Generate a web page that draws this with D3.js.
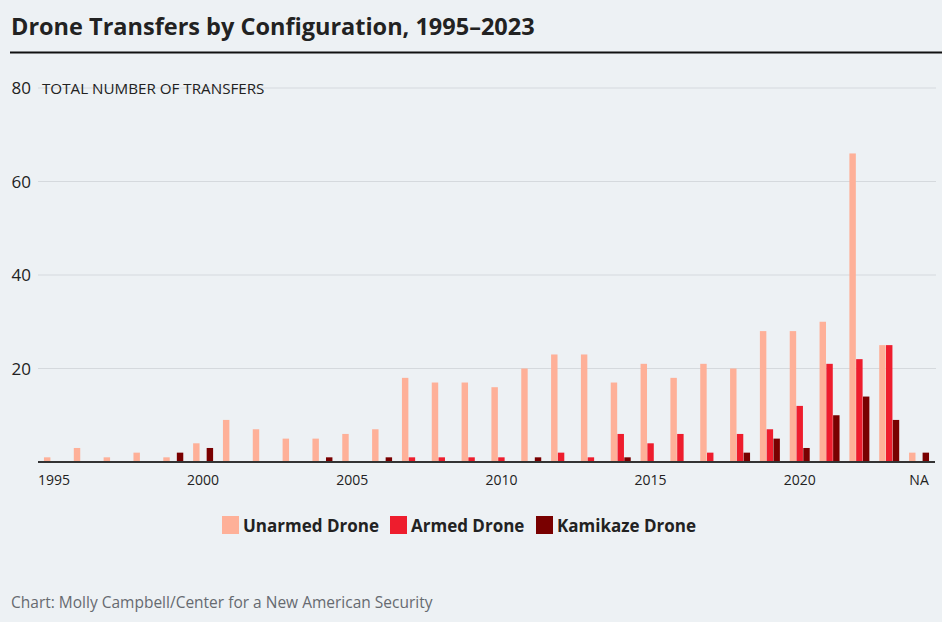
<!DOCTYPE html>
<html>
<head>
<meta charset="utf-8" />
<title>Drone Transfers by Configuration</title>
<script src="https://cdn.jsdelivr.net/npm/d3@7"></script>
<style>
  html, body { margin: 0; padding: 0; background: #edf1f4; }
  svg { display: block; font-family: "Open Sans", "Noto Sans", sans-serif; }
</style>
</head>
<body>
<svg width="942" height="622"></svg>
<script>
// data
var years = ["1995","1996","1997","1998","1999","2000","2001","2002","2003","2004",
             "2005","2006","2007","2008","2009","2010","2011","2012","2013","2014",
             "2015","2016","2017","2018","2019","2020","2021","2022","2023","NA"];
var unarmed  = [1,3,1,2,1,4,9,7,5,5, 6,7,18,17,17,16,20,23,23,17, 21,18,21,20,28,28,30,66,25,2];
var armed    = [0,0,0,0,0,0,0,0,0,0, 0,0,1,1,1,1,0,2,1,6, 4,6,2,6,7,12,21,22,25,0];
var kamikaze = [0,0,0,0,2,3,0,0,0,1, 0,1,0,0,0,0,1,0,0,1, 0,0,0,2,5,3,10,14,9,2];
var seriesNames = ["Unarmed Drone","Armed Drone","Kamikaze Drone"];
var colors = ["#feb098","#ee1d2d","#790000"];
var yTicks = [20,40,60,80];
var xTickLabels = ["1995","2000","2005","2010","2015","2020","NA"];

var svg = d3.select("svg");
var plotLeft = 38, plotRight = 935, plotTop = 88, plotBottom = 462;

var series = [unarmed, armed, kamikaze];
var rows = years.map(function(yr, i) {
  return { year: yr, values: series.map(function(s) { return s[i]; }) };
});

var x0 = d3.scaleBand().domain(years).range([plotLeft, plotRight]).paddingInner(0.33).paddingOuter(0.2);
var x1 = d3.scaleBand().domain(d3.range(series.length)).range([0, x0.bandwidth()]).paddingInner(0.05);
var y = d3.scaleLinear().domain([0, 80]).range([plotBottom, plotTop]);

// title + rule
svg.append("text").attr("x", 11).attr("y", 35)
  .attr("font-size", 23.5).attr("font-weight", 700).attr("fill", "#222")
  .text("Drone Transfers by Configuration, 1995\u20132023");
svg.append("line").attr("x1", 10).attr("x2", 942).attr("y1", 52.5).attr("y2", 52.5)
  .attr("stroke", "#111").attr("stroke-width", 2);

// gridlines
svg.append("g").selectAll("line").data(yTicks).enter().append("line")
  .attr("x1", plotLeft).attr("x2", plotRight + 1)
  .attr("y1", function(d) { return y(d); }).attr("y2", function(d) { return y(d); })
  .attr("stroke", "#d5d9dd").attr("stroke-width", 1.2);

// y labels
svg.append("g").selectAll("text").data(yTicks).enter().append("text")
  .attr("x", 31).attr("y", function(d) { return y(d) + 6; })
  .attr("text-anchor", "end").attr("font-size", 17).attr("fill", "#222")
  .text(function(d) { return d; });

svg.append("text").attr("x", 42).attr("y", y(80) + 6)
  .attr("font-size", 15.2).attr("fill", "#222").text("TOTAL NUMBER OF TRANSFERS");

// bars
var gs = svg.append("g").selectAll("g").data(rows).enter().append("g")
  .attr("transform", function(d) { return "translate(" + x0(d.year) + ",0)"; });
gs.selectAll("rect").data(function(d) { return d.values; }).enter().append("rect")
  .attr("x", function(d, i) { return x1(i); })
  .attr("width", x1.bandwidth())
  .attr("y", function(d) { return y(d); })
  .attr("height", function(d) { return y(0) - y(d); })
  .attr("fill", function(d, i) { return colors[i]; });

// x axis
var xAxis = d3.axisBottom(x0).tickValues(xTickLabels).tickSize(0).tickPadding(13);
var ax = svg.append("g").attr("transform", "translate(0," + plotBottom + ")").call(xAxis);
ax.select(".domain").attr("stroke", "#333").attr("stroke-width", 2)
  .attr("d", "M" + plotLeft + ",0H" + plotRight);
ax.selectAll("text").attr("font-size", 14).attr("fill", "#222")
  .attr("font-family", "'Open Sans', 'Noto Sans', sans-serif");

// legend
var legendX = [222, 390, 536];
var lg = svg.append("g").selectAll("g").data(seriesNames).enter().append("g")
  .attr("transform", function(d, i) { return "translate(" + legendX[i] + ",516)"; });
lg.append("rect").attr("width", 17).attr("height", 18)
  .attr("fill", function(d, i) { return colors[i]; });
lg.append("text").attr("x", 21).attr("y", 15.5)
  .attr("font-size", 17).attr("font-weight", 700).attr("fill", "#222")
  .text(function(d) { return d; });

// source
svg.append("text").attr("x", 11).attr("y", 608)
  .attr("font-size", 15.5).attr("fill", "#666a70")
  .text("Chart: Molly Campbell/Center for a New American Security");
</script>
</body>
</html>
